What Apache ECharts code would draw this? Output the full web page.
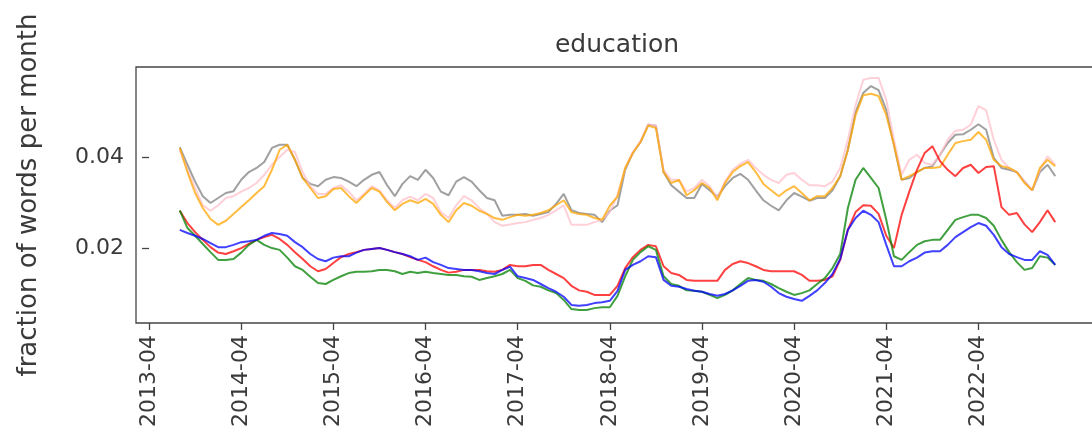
<!DOCTYPE html>
<html>
<head>
<meta charset="utf-8">
<script src="https://cdn.jsdelivr.net/npm/echarts@6/dist/echarts.min.js"></script>
<style>
  html, body { margin: 0; padding: 0; background: #fff; }
  #chart { width: 1092px; height: 443px; }
</style>
</head>
<body>
<div id="chart"></div>
<script>
// Monthly series, first month 2013-08, last month 2023-02
const firstYear = 2013, firstMonth = 8, monthCount = 115;
const months = [];
for (let i = 0; i < monthCount; i++) {
  const t = firstMonth - 1 + i;
  const y = firstYear + Math.floor(t / 12);
  const m = (t % 12) + 1;
  months.push(y + '-' + String(m).padStart(2, '0'));
}

const tickLabels = ['2013-04', '2014-04', '2015-04', '2016-04', '2017-04',
                    '2018-04', '2019-04', '2020-04', '2021-04', '2022-04'];
const yTicks = [0.02, 0.04];

const grayVals = [
  0.0423, 0.0384, 0.0347, 0.0315, 0.0300, 0.0311, 0.0322, 0.0326, 0.0351, 0.0368,
  0.0377, 0.0390, 0.0421, 0.0428, 0.0428, 0.0395, 0.0355, 0.0342, 0.0337, 0.0351,
  0.0357, 0.0355, 0.0347, 0.0337, 0.0351, 0.0362, 0.0368, 0.0339, 0.0315, 0.0342,
  0.0359, 0.0351, 0.0373, 0.0355, 0.0325, 0.0317, 0.0347, 0.0357, 0.0347, 0.0328,
  0.0311, 0.0306, 0.0272, 0.0274, 0.0274, 0.0276, 0.0272, 0.0276, 0.0280, 0.0298,
  0.0320, 0.0284, 0.0278, 0.0276, 0.0274, 0.0258, 0.0283, 0.0295, 0.0373, 0.0410,
  0.0434, 0.0472, 0.0470, 0.0368, 0.0339, 0.0325, 0.0311, 0.0311, 0.0342, 0.0328,
  0.0314, 0.0337, 0.0355, 0.0364, 0.0351, 0.0328, 0.0306, 0.0294, 0.0284, 0.0306,
  0.0322, 0.0314, 0.0305, 0.0311, 0.0311, 0.0328, 0.0359, 0.0417, 0.0500, 0.0542,
  0.0557, 0.0548, 0.0504, 0.0428, 0.0351, 0.0355, 0.0368, 0.0377, 0.0381, 0.0406,
  0.0432, 0.0450, 0.0451, 0.0461, 0.0473, 0.0461, 0.0399, 0.0377, 0.0373, 0.0368,
  0.0347, 0.0328, 0.0368, 0.0384, 0.0359
];
const orangeVals = [
  0.0421, 0.0368, 0.0322, 0.0289, 0.0265, 0.0252, 0.0261, 0.0276, 0.0291, 0.0306,
  0.0322, 0.0337, 0.0373, 0.0417, 0.0428, 0.0395, 0.0355, 0.0333, 0.0311, 0.0315,
  0.0331, 0.0333, 0.0315, 0.0300, 0.0317, 0.0333, 0.0325, 0.0302, 0.0284, 0.0298,
  0.0306, 0.0300, 0.0309, 0.0298, 0.0274, 0.0258, 0.0284, 0.0300, 0.0294, 0.0283,
  0.0276, 0.0267, 0.0263, 0.0269, 0.0274, 0.0272, 0.0274, 0.0278, 0.0284, 0.0295,
  0.0306, 0.0280, 0.0276, 0.0274, 0.0267, 0.0263, 0.0294, 0.0314, 0.0377, 0.0410,
  0.0434, 0.0470, 0.0465, 0.0368, 0.0344, 0.0351, 0.0317, 0.0328, 0.0344, 0.0333,
  0.0306, 0.0344, 0.0368, 0.0381, 0.0390, 0.0368, 0.0342, 0.0328, 0.0315, 0.0328,
  0.0337, 0.0322, 0.0306, 0.0315, 0.0315, 0.0333, 0.0359, 0.0417, 0.0493, 0.0537,
  0.0540, 0.0535, 0.0493, 0.0428, 0.0351, 0.0359, 0.0368, 0.0377, 0.0377, 0.0379,
  0.0406, 0.0432, 0.0436, 0.0439, 0.0456, 0.0439, 0.0395, 0.0381, 0.0377, 0.0368,
  0.0344, 0.0328, 0.0377, 0.0395, 0.0381
];
const pinkVals = [
  0.0417, 0.0373, 0.0333, 0.0295, 0.0283, 0.0295, 0.0311, 0.0315, 0.0325, 0.0333,
  0.0344, 0.0362, 0.0384, 0.0401, 0.0417, 0.0412, 0.0368, 0.0337, 0.0320, 0.0320,
  0.0333, 0.0339, 0.0325, 0.0306, 0.0320, 0.0337, 0.0328, 0.0306, 0.0289, 0.0306,
  0.0314, 0.0306, 0.0320, 0.0311, 0.0280, 0.0267, 0.0295, 0.0315, 0.0306, 0.0289,
  0.0276, 0.0258, 0.0250, 0.0253, 0.0256, 0.0258, 0.0263, 0.0267, 0.0274, 0.0284,
  0.0295, 0.0252, 0.0252, 0.0252, 0.0258, 0.0263, 0.0280, 0.0317, 0.0377, 0.0412,
  0.0436, 0.0473, 0.0470, 0.0373, 0.0351, 0.0351, 0.0325, 0.0333, 0.0351, 0.0337,
  0.0311, 0.0347, 0.0373, 0.0386, 0.0395, 0.0377, 0.0362, 0.0351, 0.0344, 0.0362,
  0.0366, 0.0351, 0.0339, 0.0339, 0.0337, 0.0347, 0.0377, 0.0439, 0.0515, 0.0571,
  0.0575, 0.0575, 0.0526, 0.0439, 0.0362, 0.0395, 0.0406, 0.0388, 0.0384, 0.0406,
  0.0439, 0.0459, 0.0461, 0.0472, 0.0513, 0.0504, 0.0439, 0.0395, 0.0377, 0.0368,
  0.0347, 0.0328, 0.0373, 0.0403, 0.0384
];
const redVals = [
  0.0283, 0.0256, 0.0236, 0.0219, 0.0203, 0.0191, 0.0188, 0.0194, 0.0201, 0.0210,
  0.0219, 0.0225, 0.0230, 0.0221, 0.0208, 0.0192, 0.0177, 0.0161, 0.0150, 0.0155,
  0.0168, 0.0181, 0.0188, 0.0192, 0.0197, 0.0199, 0.0201, 0.0197, 0.0192, 0.0188,
  0.0181, 0.0175, 0.0170, 0.0161, 0.0153, 0.0147, 0.0149, 0.0153, 0.0153, 0.0153,
  0.0150, 0.0149, 0.0153, 0.0164, 0.0161, 0.0161, 0.0164, 0.0164, 0.0153, 0.0144,
  0.0135, 0.0118, 0.0108, 0.0105, 0.0098, 0.0098, 0.0098, 0.0118, 0.0157, 0.0181,
  0.0197, 0.0208, 0.0205, 0.0161, 0.0146, 0.0142, 0.0131, 0.0129, 0.0129, 0.0129,
  0.0129, 0.0153, 0.0166, 0.0172, 0.0168, 0.0161, 0.0153, 0.0150, 0.0150, 0.0150,
  0.0150, 0.0142, 0.0129, 0.0129, 0.0131, 0.0139, 0.0175, 0.0241, 0.0280, 0.0295,
  0.0294, 0.0276, 0.0228, 0.0201, 0.0274, 0.0325, 0.0373, 0.0410, 0.0425, 0.0392,
  0.0373, 0.0359, 0.0377, 0.0384, 0.0366, 0.0379, 0.0381, 0.0291, 0.0274, 0.0278,
  0.0253, 0.0236, 0.0258, 0.0284, 0.0258
];
const greenVals = [
  0.0284, 0.0245, 0.0228, 0.0210, 0.0192, 0.0175, 0.0175, 0.0177, 0.0191, 0.0208,
  0.0219, 0.0208, 0.0201, 0.0197, 0.0180, 0.0161, 0.0153, 0.0138, 0.0124, 0.0122,
  0.0131, 0.0139, 0.0146, 0.0149, 0.0149, 0.0150, 0.0153, 0.0153, 0.0150, 0.0144,
  0.0149, 0.0146, 0.0149, 0.0146, 0.0144, 0.0142, 0.0142, 0.0139, 0.0138, 0.0131,
  0.0135, 0.0139, 0.0144, 0.0153, 0.0135, 0.0129, 0.0119, 0.0116, 0.0108, 0.0102,
  0.0087, 0.0067, 0.0065, 0.0065, 0.0069, 0.0071, 0.0071, 0.0096, 0.0139, 0.0175,
  0.0192, 0.0205, 0.0197, 0.0139, 0.0122, 0.0118, 0.0108, 0.0107, 0.0105, 0.0098,
  0.0091, 0.0098, 0.0108, 0.0122, 0.0135, 0.0131, 0.0129, 0.0122, 0.0113, 0.0105,
  0.0098, 0.0102, 0.0108, 0.0122, 0.0135, 0.0157, 0.0188, 0.0289, 0.0351, 0.0377,
  0.0355, 0.0333, 0.0263, 0.0183, 0.0175, 0.0192, 0.0208, 0.0216, 0.0219, 0.0219,
  0.0241, 0.0263, 0.0269, 0.0274, 0.0274, 0.0267, 0.0250, 0.0219, 0.0192, 0.0170,
  0.0153, 0.0157, 0.0183, 0.0180, 0.0164
];
const blueVals = [
  0.0241, 0.0234, 0.0228, 0.0221, 0.0212, 0.0203, 0.0203, 0.0208, 0.0214, 0.0216,
  0.0219, 0.0228, 0.0234, 0.0232, 0.0228, 0.0214, 0.0203, 0.0188, 0.0177, 0.0172,
  0.0180, 0.0183, 0.0183, 0.0191, 0.0197, 0.0199, 0.0201, 0.0197, 0.0192, 0.0188,
  0.0183, 0.0175, 0.0180, 0.0170, 0.0164, 0.0157, 0.0155, 0.0153, 0.0153, 0.0150,
  0.0146, 0.0144, 0.0153, 0.0160, 0.0139, 0.0135, 0.0131, 0.0122, 0.0113, 0.0105,
  0.0094, 0.0076, 0.0074, 0.0076, 0.0080, 0.0082, 0.0085, 0.0107, 0.0153, 0.0164,
  0.0172, 0.0183, 0.0181, 0.0131, 0.0118, 0.0116, 0.0111, 0.0107, 0.0105, 0.0100,
  0.0096, 0.0100, 0.0108, 0.0118, 0.0129, 0.0131, 0.0127, 0.0116, 0.0102, 0.0094,
  0.0089, 0.0085, 0.0096, 0.0108, 0.0124, 0.0144, 0.0177, 0.0241, 0.0267, 0.0283,
  0.0274, 0.0258, 0.0208, 0.0161, 0.0161, 0.0172, 0.0180, 0.0191, 0.0194, 0.0194,
  0.0208, 0.0225, 0.0236, 0.0247, 0.0256, 0.0250, 0.0230, 0.0203, 0.0188, 0.0181,
  0.0175, 0.0175, 0.0194, 0.0186, 0.0164
];

// x position = months elapsed since 2013-04
function monthIndex(label) {
  const [y, m] = label.split('-').map(Number);
  return (y - 2013) * 12 + (m - 4);
}
const tickPositions = tickLabels.map(monthIndex);
const tickText = {};
tickLabels.forEach(l => { tickText[monthIndex(l)] = l; });

function pairs(vals) {
  return months.map((mo, i) => [monthIndex(mo), vals[i]]);
}

const lineSeries = [
  { name: 'gray',   color: '#808080', vals: grayVals },
  { name: 'pink',   color: '#ffc0cb', vals: pinkVals },
  { name: 'orange', color: '#ffa500', vals: orangeVals },
  { name: 'red',    color: '#ff0000', vals: redVals },
  { name: 'green',  color: '#008000', vals: greenVals },
  { name: 'blue',   color: '#0000ff', vals: blueVals }
];

const textColor = '#3a3a3a';
const font = 'DejaVu Sans';

const chart = echarts.init(document.getElementById('chart'), null, { renderer: 'canvas' });
chart.setOption({
  animation: false,
  backgroundColor: '#ffffff',
  title: {
    text: 'education',
    left: 617,
    top: 33,
    textAlign: 'center',
    padding: 0,
    textStyle: { fontFamily: font, fontSize: 25, fontWeight: 'normal', color: textColor }
  },
  grid: {
    left: 136, top: 67, width: 963, height: 256,
    containLabel: false,
    outerBoundsMode: 'none',
    show: true,
    borderColor: '#444',
    borderWidth: 1.3,
    backgroundColor: 'transparent'
  },
  xAxis: {
    type: 'value',
    min: -1.7,
    max: 123.7,
    splitLine: { show: false },
    axisLine: { show: false },
    axisTick: {
      show: true, inside: false, length: 7,
      customValues: tickPositions,
      lineStyle: { color: '#444', width: 1.3 }
    },
    axisLabel: {
      customValues: tickPositions,
      rotate: 90,
      margin: 12,
      fontFamily: font,
      fontSize: 22,
      color: textColor,
      formatter: v => tickText[Math.round(v)] || ''
    }
  },
  yAxis: {
    type: 'value',
    min: 0.00363,
    max: 0.05989,
    name: 'fraction of words per month',
    nameLocation: 'middle',
    nameRotate: 90,
    nameGap: 94,
    nameTextStyle: { fontFamily: font, fontSize: 26, color: textColor },
    splitLine: { show: false },
    axisLine: { show: false },
    axisTick: {
      show: true, inside: false, length: 7,
      customValues: yTicks,
      lineStyle: { color: '#444', width: 1.3 }
    },
    axisLabel: {
      customValues: yTicks,
      margin: 12,
      fontFamily: font,
      fontSize: 22,
      color: textColor,
      formatter: v => v.toFixed(2)
    }
  },
  series: lineSeries.map(s => ({
    name: s.name,
    type: 'line',
    data: pairs(s.vals),
    showSymbol: false,
    symbol: 'none',
    smooth: false,
    clip: true,
    lineStyle: { color: s.color, width: 2, opacity: 0.75 },
    emphasis: { disabled: true }
  }))
});
</script>
</body>
</html>
